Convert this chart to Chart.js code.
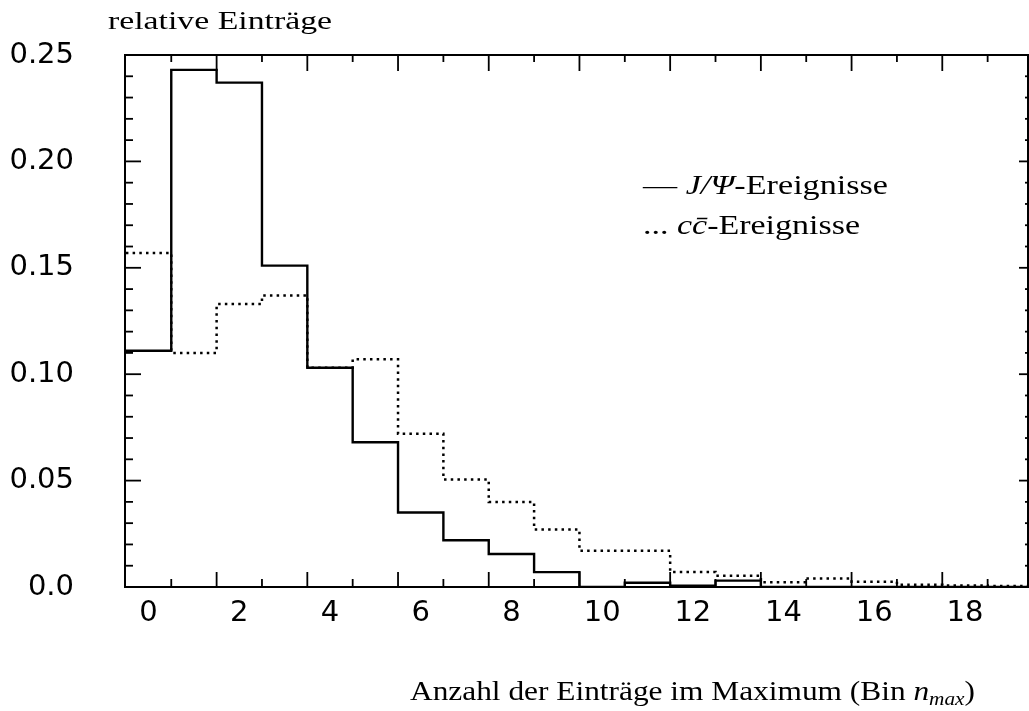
<!DOCTYPE html>
<html>
<head>
<meta charset="utf-8">
<script src="https://cdn.jsdelivr.net/npm/chart.js@4.4.1/dist/chart.umd.min.js"></script>
<style>
  html, body { margin: 0; padding: 0; background: #ffffff; }
  #wrap { width: 1029px; height: 711px; }
</style>
</head>
<body>
<div id="wrap"><canvas id="c" width="1029" height="711"></canvas></div>
<script>
// ---- data ----
const bins = [0, 1, 2, 3, 4, 5, 6, 7, 8, 9, 10, 11, 12, 13, 14, 15, 16, 17, 18, 19];
const jpsiValues  = [0.111, 0.243, 0.237, 0.151, 0.103, 0.068, 0.035, 0.022, 0.0155, 0.007,
                     0.0, 0.002, 0.0006, 0.003, 0.0, 0.0, 0.0, 0.0, 0.0, 0.0];
const ccbarValues = [0.157, 0.110, 0.133, 0.137, 0.103, 0.107, 0.072, 0.0505, 0.040, 0.027,
                     0.017, 0.017, 0.007, 0.0053, 0.0022, 0.004, 0.0025, 0.001, 0.0007, 0.0005];
const xTickValues = [0, 2, 4, 6, 8, 10, 12, 14, 16, 18];
const xTickLabels = ['0', '2', '4', '6', '8', '10', '12', '14', '16', '18'];
const yTickValues = [0, 0.05, 0.10, 0.15, 0.20, 0.25];
const yTickLabels = ['0.0', '0.05', '0.10', '0.15', '0.20', '0.25'];
const xMinorMarks = [0.5, 2.5, 4.5, 6.5, 8.5, 10.5, 12.5, 14.5, 16.5, 18.5];
const xMajorMarks = [1.5, 3.5, 5.5, 7.5, 9.5, 11.5, 13.5, 15.5, 17.5];
const yMajorMarks = [0.05, 0.10, 0.15, 0.20];
const yMinorMarks = [0.01, 0.02, 0.03, 0.04, 0.06, 0.07, 0.08, 0.09, 0.11, 0.12, 0.13, 0.14,
                     0.16, 0.17, 0.18, 0.19, 0.21, 0.22, 0.23, 0.24];
const xMin = -0.52, xMax = 19.39, yMin = 0, yMax = 0.25;

const seriesNames = ['J/Ψ-Ereignisse', 'cc̄-Ereignisse'];

// bin left edges + closing right edge, drawn as a step line
function stepPoints(values) {
  const pts = bins.map((b, i) => ({ x: b - 0.5, y: values[i] }));
  pts.push({ x: bins[bins.length - 1] + 0.5, y: values[values.length - 1] });
  return pts;
}

const SERIF = '"Liberation Serif", "DejaVu Serif", serif';
const SANS = '"DejaVu Sans", sans-serif';

function drawRuns(ctx, runs, x, y, targetW) {
  let total = 0;
  const widths = runs.map(r => { ctx.font = r.font; const w = ctx.measureText(r.t).width; total += w; return w; });
  const sx = targetW / total;
  ctx.save();
  ctx.translate(x, y);
  ctx.scale(sx, 1);
  ctx.fillStyle = '#000';
  ctx.textBaseline = 'alphabetic';
  ctx.textAlign = 'left';
  let cx = 0;
  runs.forEach((r, i) => { ctx.font = r.font; ctx.fillText(r.t, cx, r.dy || 0); cx += widths[i]; });
  ctx.restore();
}

const framePlugin = {
  id: 'frameAndText',
  afterDatasetsDraw(chart) {
    const ctx = chart.ctx;
    const ca = chart.chartArea;
    const xs = chart.scales.x, ys = chart.scales.y;
    ctx.save();
    ctx.strokeStyle = '#000';
    ctx.lineCap = 'butt';
    ctx.lineWidth = 2;
    ctx.strokeRect(ca.left, ca.top, ca.right - ca.left, ca.bottom - ca.top);
    ctx.lineWidth = 1.8;
    const seg = (x1, y1, x2, y2) => { ctx.beginPath(); ctx.moveTo(x1, y1); ctx.lineTo(x2, y2); ctx.stroke(); };
    xMinorMarks.forEach(v => { const p = xs.getPixelForValue(v); seg(p, ca.bottom, p, ca.bottom - 8); seg(p, ca.top, p, ca.top + 7); });
    xMajorMarks.forEach(v => { const p = xs.getPixelForValue(v); seg(p, ca.bottom, p, ca.bottom - 15); seg(p, ca.top, p, ca.top + 16); });
    yMinorMarks.forEach(v => { const p = ys.getPixelForValue(v); seg(ca.left, p, ca.left + 8, p); seg(ca.right, p, ca.right - 3, p); });
    yMajorMarks.forEach(v => { const p = ys.getPixelForValue(v); seg(ca.left, p, ca.left + 16, p); seg(ca.right, p, ca.right - 9, p); });
    ctx.restore();

    // y-axis title
    drawRuns(ctx, [{ t: 'relative Einträge', font: '26px ' + SERIF }], ca.left - 17, ca.top - 26, 224);
    // legend
    const F = '28px ' + SERIF, FI = 'italic 28px ' + SERIF;
    drawRuns(ctx, [{ t: '— ', font: F }, { t: 'J/Ψ', font: FI }, { t: '-Ereignisse', font: F }],
             ca.left + 518, ca.top + 139, 245);
    drawRuns(ctx, [{ t: '... ', font: F }, { t: 'cc\u0304', font: FI }, { t: '-Ereignisse', font: F }],
             ca.left + 518, ca.top + 179, 217);
    // x-axis title
    drawRuns(ctx, [
      { t: 'Anzahl der Einträge im Maximum (Bin ', font: F },
      { t: 'n', font: FI },
      { t: 'max', font: 'italic 19px ' + SERIF, dy: 5 },
      { t: ')', font: F }
    ], ca.left + 285, ca.bottom + 113, 565);
  }
};

new Chart(document.getElementById('c'), {
  type: 'line',
  data: {
    datasets: [
      { label: seriesNames[0], data: stepPoints(jpsiValues), stepped: 'before',
        borderColor: '#000', borderWidth: 2.4, pointRadius: 0, fill: false },
      { label: seriesNames[1], data: stepPoints(ccbarValues), stepped: 'before',
        borderColor: '#000', borderWidth: 2.5, borderDash: [2.5, 4.2], pointRadius: 0, fill: false }
    ]
  },
  options: {
    responsive: false,
    animation: false,
    devicePixelRatio: 1,
    layout: { padding: { top: 55, right: 1, left: 0, bottom: 0 } },
    plugins: { legend: { display: false }, tooltip: { enabled: false }, title: { display: false } },
    scales: {
      x: {
        type: 'linear', min: xMin, max: xMax,
        grid: { display: false, drawTicks: false },
        border: { display: false },
        afterBuildTicks: (axis) => { axis.ticks = xTickValues.map(v => ({ value: v })); },
        afterFit: (axis) => { axis.height = 124; axis.paddingLeft = 0; axis.paddingRight = 0; },
        ticks: {
          callback: (v, i) => xTickLabels[i],
          font: { family: SANS, size: 29 }, color: '#000', padding: 9,
          maxRotation: 0, autoSkip: false
        }
      },
      y: {
        type: 'linear', min: yMin, max: yMax,
        grid: { display: false, drawTicks: false },
        border: { display: false },
        afterBuildTicks: (axis) => { axis.ticks = yTickValues.map(v => ({ value: v })); },
        afterFit: (axis) => { axis.width = 125; axis.paddingTop = 0; axis.paddingBottom = 0; },
        ticks: {
          callback: (v, i) => yTickLabels[i],
          font: { family: SANS, size: 29 }, color: '#000', padding: 51, autoSkip: false
        }
      }
    }
  },
  plugins: [framePlugin]
});
</script>
</body>
</html>
